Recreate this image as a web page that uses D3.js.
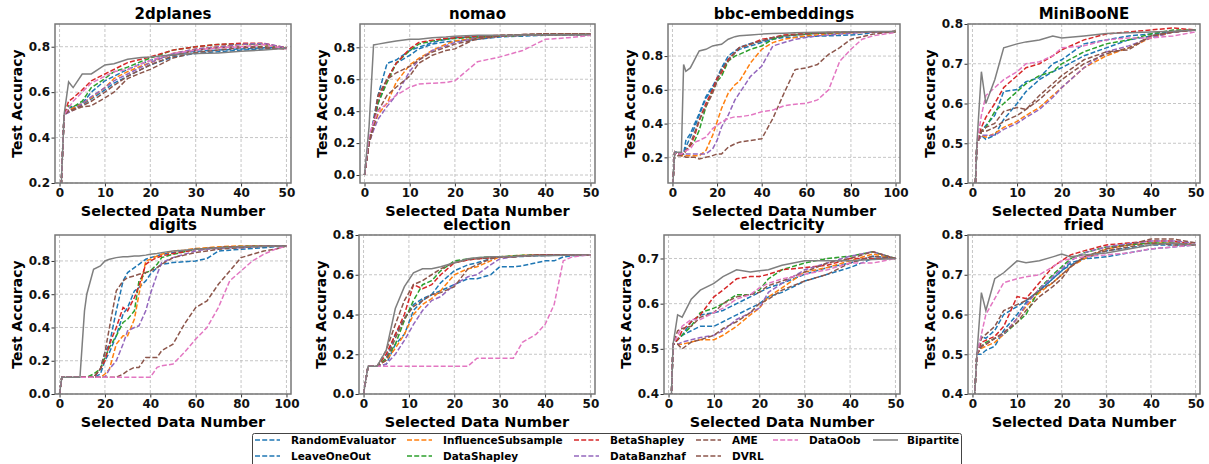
<!DOCTYPE html>
<html>
<head>
<meta charset="utf-8">
<script src="https://cdn.jsdelivr.net/npm/d3@7"></script>
<style>
    body { margin: 0; background: #fff; }
    text { font-family: 'DejaVu Sans', sans-serif; font-weight: bold; }
</style>
</head>
<body>
<svg id="chart" width="1209" height="464"></svg>
<script>

    var methods = ['RandomEvaluator', 'LeaveOneOut', 'InfluenceSubsample', 'DataShapley', 'BetaShapley',
        'DataBanzhaf', 'AME', 'DVRL', 'DataOob', 'Bipartite'];

    var datasets = ['2dplanes', 'nomao', 'bbc-embeddings', 'MiniBooNE', 'digits', 'election', 'electricity', 'fried'];

    // selected data numbers sampled for each dataset
    var xPlanes = [0, 1, 2, 3, 5, 7, 10, 12, 15, 18, 20, 25, 30, 35, 40, 45, 50];
    var xNomao = xPlanes;
    var xBbc = [0, 1, 2, 4, 5, 6, 8, 10, 12, 15, 18, 20, 22, 25, 28, 30, 35, 40, 45, 50, 55, 60, 65, 70, 75, 80, 85, 90, 100];
    var xMiniboone = xPlanes;
    var xDigits = [0, 1, 5, 9, 10, 11, 12, 15, 18, 20, 22, 25, 28, 30, 33, 35, 38, 40, 43, 45, 50, 55, 60, 65, 70, 75, 80, 85, 90, 95, 100];
    var xElection = [0, 1, 3, 5, 7, 9, 11, 13, 15, 17, 20, 23, 25, 28, 30, 33, 35, 38, 40, 42, 44, 46, 50];
    var xElectricity = [0, 1, 2, 3, 5, 7, 10, 12, 15, 18, 20, 22, 25, 30, 35, 40, 45, 50];
    var xFried = xElectricity;

    // test accuracy, one row per method (same order as methods)
    var accPlanes = [
        [0, 0.5, 0.53, 0.535, 0.55, 0.6, 0.65, 0.67, 0.7, 0.725, 0.74, 0.765, 0.78, 0.785, 0.79, 0.795, 0.795],
        [0, 0.5, 0.52, 0.525, 0.545, 0.57, 0.61, 0.64, 0.67, 0.7, 0.72, 0.755, 0.77, 0.778, 0.785, 0.79, 0.795],
        [0, 0.5, 0.52, 0.53, 0.55, 0.575, 0.62, 0.66, 0.69, 0.715, 0.73, 0.77, 0.79, 0.8, 0.81, 0.81, 0.795],
        [0, 0.5, 0.54, 0.535, 0.56, 0.62, 0.66, 0.69, 0.71, 0.735, 0.75, 0.785, 0.8, 0.81, 0.812, 0.81, 0.795],
        [0, 0.5, 0.56, 0.575, 0.61, 0.65, 0.68, 0.7, 0.73, 0.745, 0.755, 0.785, 0.8, 0.81, 0.815, 0.815, 0.795],
        [0, 0.5, 0.51, 0.52, 0.55, 0.58, 0.62, 0.65, 0.68, 0.71, 0.73, 0.77, 0.79, 0.8, 0.81, 0.815, 0.795],
        [0, 0.5, 0.52, 0.525, 0.54, 0.56, 0.6, 0.63, 0.67, 0.7, 0.72, 0.76, 0.785, 0.795, 0.8, 0.8, 0.79],
        [0, 0.5, 0.515, 0.52, 0.535, 0.54, 0.575, 0.6, 0.66, 0.685, 0.7, 0.75, 0.775, 0.785, 0.795, 0.795, 0.79],
        [0, 0.5, 0.53, 0.56, 0.6, 0.64, 0.67, 0.69, 0.7, 0.725, 0.74, 0.77, 0.785, 0.795, 0.8, 0.81, 0.79],
        [0, 0.5, 0.645, 0.62, 0.68, 0.68, 0.72, 0.725, 0.745, 0.752, 0.755, 0.765, 0.77, 0.772, 0.78, 0.785, 0.793]
    ];

    var accNomao = [
        [0, 0.2, 0.35, 0.5, 0.7, 0.72, 0.78, 0.8, 0.83, 0.85, 0.86, 0.865, 0.87, 0.875, 0.875, 0.878, 0.88],
        [0, 0.2, 0.3, 0.45, 0.6, 0.7, 0.75, 0.79, 0.82, 0.835, 0.84, 0.85, 0.865, 0.87, 0.875, 0.878, 0.88],
        [0, 0.2, 0.3, 0.38, 0.45, 0.58, 0.69, 0.73, 0.78, 0.82, 0.84, 0.86, 0.87, 0.875, 0.878, 0.88, 0.88],
        [0, 0.2, 0.32, 0.45, 0.58, 0.7, 0.78, 0.82, 0.84, 0.85, 0.855, 0.865, 0.87, 0.875, 0.878, 0.88, 0.88],
        [0, 0.2, 0.33, 0.48, 0.6, 0.7, 0.79, 0.83, 0.845, 0.855, 0.86, 0.87, 0.875, 0.878, 0.88, 0.88, 0.88],
        [0, 0.2, 0.28, 0.35, 0.43, 0.5, 0.65, 0.72, 0.78, 0.81, 0.83, 0.86, 0.87, 0.875, 0.878, 0.88, 0.88],
        [0, 0.2, 0.32, 0.5, 0.6, 0.64, 0.68, 0.72, 0.77, 0.8, 0.82, 0.85, 0.87, 0.88, 0.885, 0.885, 0.885],
        [0, 0.2, 0.3, 0.4, 0.5, 0.55, 0.62, 0.7, 0.75, 0.78, 0.79, 0.86, 0.875, 0.88, 0.885, 0.885, 0.885],
        [0, 0.25, 0.33, 0.4, 0.45, 0.5, 0.55, 0.57, 0.575, 0.58, 0.59, 0.71, 0.74, 0.78, 0.85, 0.86, 0.875],
        [0, 0.3, 0.815, 0.82, 0.83, 0.84, 0.85, 0.85, 0.86, 0.865, 0.87, 0.875, 0.875, 0.877, 0.878, 0.879, 0.88]
    ];

    var accBbc = [
        [0, 0.23, 0.23, 0.22, 0.22, 0.3, 0.34, 0.4, 0.46, 0.56, 0.62, 0.67, 0.73, 0.8, 0.83, 0.85, 0.875, 0.89, 0.905, 0.92, 0.925, 0.93, 0.935, 0.937, 0.94, 0.942, 0.943, 0.944, 0.945],
        [0, 0.23, 0.23, 0.22, 0.22, 0.26, 0.32, 0.38, 0.45, 0.55, 0.61, 0.66, 0.72, 0.78, 0.82, 0.84, 0.86, 0.88, 0.9, 0.91, 0.912, 0.915, 0.918, 0.92, 0.922, 0.925, 0.93, 0.94, 0.945],
        [0, 0.23, 0.22, 0.21, 0.21, 0.21, 0.21, 0.21, 0.21, 0.24, 0.33, 0.41, 0.49, 0.58, 0.63, 0.65, 0.76, 0.84, 0.88, 0.9, 0.91, 0.92, 0.925, 0.93, 0.935, 0.938, 0.94, 0.943, 0.945],
        [0, 0.23, 0.22, 0.22, 0.22, 0.24, 0.27, 0.3, 0.36, 0.5, 0.6, 0.65, 0.68, 0.77, 0.8, 0.81, 0.84, 0.86, 0.9, 0.92, 0.925, 0.93, 0.935, 0.937, 0.94, 0.942, 0.943, 0.944, 0.945],
        [0, 0.23, 0.22, 0.22, 0.22, 0.24, 0.27, 0.33, 0.42, 0.52, 0.6, 0.67, 0.7, 0.78, 0.82, 0.85, 0.87, 0.9, 0.91, 0.925, 0.93, 0.935, 0.937, 0.94, 0.941, 0.942, 0.943, 0.944, 0.945],
        [0, 0.23, 0.22, 0.22, 0.22, 0.22, 0.22, 0.22, 0.22, 0.22, 0.25, 0.3, 0.38, 0.45, 0.54, 0.58, 0.68, 0.74, 0.86, 0.88, 0.9, 0.91, 0.92, 0.925, 0.93, 0.935, 0.94, 0.943, 0.945],
        [0, 0.23, 0.22, 0.22, 0.22, 0.24, 0.28, 0.35, 0.42, 0.5, 0.58, 0.65, 0.72, 0.77, 0.82, 0.85, 0.87, 0.89, 0.91, 0.92, 0.925, 0.93, 0.935, 0.937, 0.94, 0.942, 0.943, 0.944, 0.945],
        [0, 0.23, 0.21, 0.21, 0.21, 0.2, 0.2, 0.2, 0.19, 0.2, 0.21, 0.22, 0.22, 0.26, 0.28, 0.29, 0.3, 0.31, 0.43, 0.58, 0.72, 0.73, 0.75, 0.81, 0.85, 0.9, 0.915, 0.93, 0.945],
        [0, 0.23, 0.22, 0.22, 0.23, 0.24, 0.25, 0.29, 0.3, 0.32, 0.37, 0.39, 0.41, 0.43, 0.44, 0.44, 0.45, 0.47, 0.48, 0.505, 0.515, 0.52, 0.54, 0.6, 0.77, 0.84, 0.9, 0.92, 0.94],
        [0, 0.23, 0.23, 0.23, 0.75, 0.71, 0.73, 0.78, 0.83, 0.84, 0.86, 0.865, 0.87, 0.9, 0.915, 0.92, 0.925, 0.93, 0.933, 0.935, 0.938, 0.94, 0.941, 0.942, 0.943, 0.944, 0.944, 0.945, 0.945]
    ];

    var accMiniboone = [
        [0.2, 0.5, 0.53, 0.545, 0.57, 0.63, 0.635, 0.655, 0.665, 0.7, 0.71, 0.75, 0.76, 0.77, 0.775, 0.78, 0.785],
        [0.2, 0.5, 0.52, 0.51, 0.52, 0.56, 0.6, 0.63, 0.66, 0.68, 0.69, 0.72, 0.74, 0.76, 0.77, 0.78, 0.785],
        [0.2, 0.5, 0.52, 0.515, 0.525, 0.54, 0.555, 0.57, 0.59, 0.62, 0.64, 0.69, 0.72, 0.74, 0.765, 0.78, 0.785],
        [0.2, 0.5, 0.53, 0.54, 0.58, 0.6, 0.63, 0.65, 0.67, 0.68, 0.7, 0.73, 0.75, 0.76, 0.775, 0.785, 0.785],
        [0.2, 0.5, 0.54, 0.565, 0.6, 0.64, 0.67, 0.69, 0.7, 0.72, 0.735, 0.76, 0.775, 0.78, 0.785, 0.79, 0.785],
        [0.2, 0.5, 0.52, 0.52, 0.52, 0.535, 0.55, 0.565, 0.585, 0.615, 0.64, 0.69, 0.73, 0.745, 0.765, 0.78, 0.785],
        [0.2, 0.5, 0.53, 0.54, 0.55, 0.58, 0.59, 0.585, 0.62, 0.65, 0.67, 0.71, 0.73, 0.735, 0.77, 0.78, 0.785],
        [0.2, 0.5, 0.53, 0.53, 0.54, 0.555, 0.57, 0.585, 0.61, 0.64, 0.66, 0.7, 0.725, 0.74, 0.77, 0.78, 0.785],
        [0.2, 0.5, 0.57, 0.62, 0.64, 0.66, 0.68, 0.7, 0.705, 0.72, 0.74, 0.745, 0.76, 0.765, 0.765, 0.77, 0.78],
        [0.2, 0.5, 0.68, 0.6, 0.66, 0.74, 0.75, 0.755, 0.76, 0.77, 0.765, 0.77, 0.776, 0.778, 0.78, 0.782, 0.785]
    ];

    var accDigits = [
        [0, 0.1, 0.1, 0.1, 0.1, 0.1, 0.1, 0.1, 0.15, 0.25, 0.3, 0.5, 0.68, 0.73, 0.76, 0.78, 0.81, 0.82, 0.83, 0.84, 0.85, 0.86, 0.87, 0.875, 0.88, 0.882, 0.885, 0.887, 0.888, 0.89, 0.89],
        [0, 0.1, 0.1, 0.1, 0.1, 0.1, 0.1, 0.1, 0.12, 0.2, 0.25, 0.35, 0.48, 0.52, 0.62, 0.64, 0.68, 0.72, 0.76, 0.78, 0.79, 0.795, 0.8, 0.815, 0.86, 0.865, 0.87, 0.875, 0.88, 0.885, 0.89],
        [0, 0.1, 0.1, 0.1, 0.1, 0.1, 0.1, 0.1, 0.1, 0.12, 0.15, 0.3, 0.35, 0.35, 0.45, 0.6, 0.8, 0.81, 0.83, 0.84, 0.86, 0.865, 0.875, 0.88, 0.885, 0.888, 0.89, 0.89, 0.89, 0.89, 0.89],
        [0, 0.1, 0.1, 0.1, 0.1, 0.1, 0.1, 0.12, 0.15, 0.22, 0.28, 0.35, 0.43, 0.45, 0.5, 0.68, 0.73, 0.74, 0.78, 0.82, 0.84, 0.855, 0.87, 0.875, 0.88, 0.885, 0.887, 0.888, 0.889, 0.89, 0.89],
        [0, 0.1, 0.1, 0.1, 0.1, 0.1, 0.1, 0.1, 0.15, 0.2, 0.3, 0.4, 0.52, 0.5, 0.58, 0.65, 0.78, 0.8, 0.82, 0.83, 0.845, 0.855, 0.87, 0.875, 0.88, 0.885, 0.887, 0.888, 0.889, 0.89, 0.89],
        [0, 0.1, 0.1, 0.1, 0.1, 0.1, 0.1, 0.1, 0.1, 0.1, 0.15, 0.2, 0.3, 0.38, 0.4, 0.41, 0.5, 0.6, 0.72, 0.79, 0.82, 0.84, 0.86, 0.87, 0.875, 0.88, 0.88, 0.885, 0.888, 0.89, 0.89],
        [0, 0.1, 0.1, 0.1, 0.1, 0.1, 0.1, 0.1, 0.15, 0.25, 0.4, 0.62, 0.68, 0.7, 0.71, 0.72, 0.73, 0.74, 0.76, 0.78, 0.82, 0.835, 0.85, 0.86, 0.87, 0.875, 0.88, 0.885, 0.887, 0.888, 0.89],
        [0, 0.1, 0.1, 0.1, 0.1, 0.1, 0.1, 0.1, 0.1, 0.1, 0.1, 0.1, 0.12, 0.14, 0.16, 0.16, 0.22, 0.22, 0.22, 0.26, 0.3, 0.42, 0.52, 0.56, 0.66, 0.74, 0.82, 0.84, 0.86, 0.87, 0.89],
        [0, 0.1, 0.1, 0.1, 0.1, 0.1, 0.1, 0.1, 0.1, 0.1, 0.1, 0.1, 0.1, 0.1, 0.1, 0.1, 0.1, 0.1, 0.16, 0.17, 0.18, 0.25, 0.33, 0.4, 0.52, 0.68, 0.74, 0.8, 0.84, 0.87, 0.89],
        [0, 0.1, 0.1, 0.1, 0.3, 0.5, 0.6, 0.75, 0.77, 0.8, 0.81, 0.82, 0.825, 0.825, 0.83, 0.83, 0.835, 0.84, 0.845, 0.85, 0.86, 0.865, 0.87, 0.875, 0.88, 0.883, 0.885, 0.887, 0.888, 0.89, 0.89]
    ];

    var accElection = [
        [0, 0.14, 0.14, 0.15, 0.25, 0.3, 0.42, 0.47, 0.5, 0.52, 0.55, 0.58, 0.58, 0.6, 0.64, 0.64, 0.645, 0.66, 0.67, 0.67, 0.69, 0.695, 0.7],
        [0, 0.14, 0.14, 0.18, 0.3, 0.38, 0.45, 0.48, 0.5, 0.56, 0.62, 0.65, 0.66, 0.68, 0.69, 0.69, 0.692, 0.695, 0.697, 0.698, 0.7, 0.7, 0.7],
        [0, 0.14, 0.14, 0.17, 0.23, 0.3, 0.4, 0.45, 0.48, 0.52, 0.6, 0.63, 0.64, 0.67, 0.69, 0.695, 0.698, 0.7, 0.7, 0.7, 0.7, 0.7, 0.7],
        [0, 0.14, 0.14, 0.18, 0.25, 0.37, 0.47, 0.55, 0.57, 0.62, 0.67, 0.68, 0.685, 0.69, 0.69, 0.695, 0.698, 0.7, 0.7, 0.7, 0.7, 0.7, 0.7],
        [0, 0.14, 0.14, 0.2, 0.3, 0.4, 0.55, 0.53, 0.55, 0.6, 0.66, 0.675, 0.68, 0.685, 0.69, 0.69, 0.695, 0.698, 0.7, 0.7, 0.7, 0.7, 0.7],
        [0, 0.14, 0.14, 0.15, 0.2, 0.27, 0.35, 0.42, 0.47, 0.49, 0.55, 0.59, 0.6, 0.65, 0.68, 0.69, 0.695, 0.698, 0.7, 0.7, 0.7, 0.7, 0.7],
        [0, 0.14, 0.14, 0.22, 0.35, 0.47, 0.55, 0.57, 0.6, 0.63, 0.66, 0.675, 0.68, 0.685, 0.69, 0.69, 0.695, 0.698, 0.7, 0.7, 0.7, 0.7, 0.7],
        [0, 0.14, 0.14, 0.17, 0.28, 0.38, 0.44, 0.47, 0.5, 0.51, 0.54, 0.63, 0.65, 0.68, 0.69, 0.69, 0.695, 0.698, 0.7, 0.7, 0.7, 0.7, 0.7],
        [0, 0.14, 0.14, 0.14, 0.14, 0.14, 0.14, 0.14, 0.14, 0.14, 0.14, 0.14, 0.18, 0.18, 0.18, 0.18, 0.26, 0.3, 0.35, 0.45, 0.67, 0.69, 0.7],
        [0, 0.14, 0.14, 0.22, 0.43, 0.54, 0.61, 0.63, 0.63, 0.64, 0.66, 0.68, 0.685, 0.69, 0.69, 0.692, 0.694, 0.695, 0.696, 0.697, 0.698, 0.699, 0.7]
    ];

    var accElectricity = [
        [0.2, 0.51, 0.52, 0.53, 0.54, 0.55, 0.55, 0.56, 0.575, 0.59, 0.6, 0.615, 0.625, 0.65, 0.665, 0.68, 0.7, 0.7],
        [0.2, 0.51, 0.52, 0.53, 0.56, 0.575, 0.58, 0.585, 0.6, 0.615, 0.625, 0.635, 0.645, 0.665, 0.68, 0.69, 0.705, 0.7],
        [0.2, 0.51, 0.51, 0.51, 0.515, 0.52, 0.52, 0.53, 0.55, 0.575, 0.59, 0.615, 0.635, 0.67, 0.68, 0.695, 0.71, 0.7],
        [0.2, 0.51, 0.52, 0.53, 0.55, 0.58, 0.59, 0.6, 0.62, 0.62, 0.63, 0.655, 0.675, 0.69, 0.7, 0.705, 0.715, 0.7],
        [0.2, 0.51, 0.52, 0.54, 0.56, 0.575, 0.615, 0.63, 0.655, 0.66, 0.66, 0.665, 0.675, 0.68, 0.685, 0.7, 0.7, 0.7],
        [0.2, 0.51, 0.51, 0.515, 0.52, 0.525, 0.53, 0.54, 0.565, 0.58, 0.59, 0.625, 0.645, 0.675, 0.69, 0.705, 0.715, 0.7],
        [0.2, 0.51, 0.54, 0.545, 0.55, 0.57, 0.58, 0.6, 0.615, 0.62, 0.625, 0.64, 0.65, 0.67, 0.69, 0.7, 0.715, 0.7],
        [0.2, 0.51, 0.51, 0.5, 0.515, 0.52, 0.53, 0.545, 0.56, 0.58, 0.6, 0.61, 0.63, 0.65, 0.665, 0.69, 0.705, 0.7],
        [0.2, 0.51, 0.53, 0.55, 0.565, 0.565, 0.58, 0.59, 0.61, 0.62, 0.635, 0.645, 0.655, 0.665, 0.675, 0.69, 0.69, 0.7],
        [0.2, 0.51, 0.575, 0.57, 0.61, 0.63, 0.645, 0.66, 0.675, 0.67, 0.673, 0.675, 0.685, 0.695, 0.695, 0.695, 0.698, 0.7]
    ];

    var accFried = [
        [0.3, 0.5, 0.5, 0.51, 0.52, 0.56, 0.6, 0.63, 0.66, 0.69, 0.71, 0.73, 0.74, 0.745, 0.755, 0.765, 0.77, 0.775],
        [0.3, 0.5, 0.545, 0.54, 0.56, 0.6, 0.62, 0.635, 0.66, 0.69, 0.71, 0.725, 0.74, 0.76, 0.768, 0.775, 0.775, 0.775],
        [0.3, 0.5, 0.515, 0.52, 0.53, 0.55, 0.59, 0.62, 0.655, 0.68, 0.7, 0.72, 0.74, 0.765, 0.775, 0.78, 0.78, 0.775],
        [0.3, 0.5, 0.52, 0.53, 0.54, 0.55, 0.58, 0.6, 0.665, 0.7, 0.72, 0.74, 0.755, 0.77, 0.775, 0.78, 0.78, 0.775],
        [0.3, 0.5, 0.53, 0.535, 0.545, 0.57, 0.645, 0.64, 0.68, 0.72, 0.735, 0.75, 0.76, 0.775, 0.78, 0.785, 0.785, 0.775],
        [0.3, 0.5, 0.52, 0.525, 0.54, 0.55, 0.59, 0.625, 0.665, 0.695, 0.715, 0.735, 0.755, 0.77, 0.778, 0.785, 0.785, 0.78],
        [0.3, 0.5, 0.54, 0.55, 0.57, 0.61, 0.625, 0.635, 0.66, 0.68, 0.7, 0.72, 0.745, 0.765, 0.775, 0.79, 0.79, 0.78],
        [0.3, 0.5, 0.52, 0.525, 0.54, 0.555, 0.58, 0.61, 0.645, 0.67, 0.69, 0.72, 0.745, 0.76, 0.77, 0.78, 0.775, 0.775],
        [0.3, 0.5, 0.55, 0.6, 0.64, 0.68, 0.69, 0.695, 0.7, 0.72, 0.735, 0.74, 0.745, 0.75, 0.755, 0.765, 0.77, 0.775],
        [0.3, 0.5, 0.655, 0.61, 0.69, 0.705, 0.735, 0.73, 0.735, 0.745, 0.752, 0.745, 0.75, 0.755, 0.765, 0.775, 0.78, 0.775]
    ];

    var ticks50 = [0, 10, 20, 30, 40, 50];
    var ticks100 = [0, 20, 40, 60, 80, 100];

    var colors = ['#1f77b4', '#1f77b4', '#ff7f0e', '#2ca02c', '#d62728', '#9467bd', '#8c564b', '#8c564b', '#e377c2', '#7f7f7f'];

    var panels = [
        {xs: xPlanes, rows: accPlanes, xTicks: ticks50, yDomain: [0.2, 0.9], yTicks: [0.2, 0.4, 0.6, 0.8], left: 55, right: 291, top: 24, bottom: 183},
        {xs: xNomao, rows: accNomao, xTicks: ticks50, yDomain: [-0.05, 0.946], yTicks: [0, 0.2, 0.4, 0.6, 0.8], left: 360, right: 595, top: 24, bottom: 183},
        {xs: xBbc, rows: accBbc, xTicks: ticks100, yDomain: [0.048, 0.99], yTicks: [0.2, 0.4, 0.6, 0.8], left: 668, right: 900, top: 24, bottom: 183},
        {xs: xMiniboone, rows: accMiniboone, xTicks: ticks50, yDomain: [0.4, 0.8], yTicks: [0.4, 0.5, 0.6, 0.7, 0.8], left: 968, right: 1200, top: 24, bottom: 183},
        {xs: xDigits, rows: accDigits, xTicks: ticks100, yDomain: [0, 0.956], yTicks: [0, 0.2, 0.4, 0.6, 0.8], left: 55, right: 291, top: 235, bottom: 394},
        {xs: xElection, rows: accElection, xTicks: ticks50, yDomain: [0, 0.8], yTicks: [0, 0.2, 0.4, 0.6, 0.8], left: 359, right: 595, top: 235, bottom: 394},
        {xs: xElectricity, rows: accElectricity, xTicks: ticks50, yDomain: [0.4, 0.752], yTicks: [0.4, 0.5, 0.6, 0.7], left: 664, right: 900, top: 235, bottom: 394},
        {xs: xFried, rows: accFried, xTicks: ticks50, yDomain: [0.4, 0.8], yTicks: [0.4, 0.5, 0.6, 0.7, 0.8], left: 968, right: 1200, top: 235, bottom: 394}
    ];

    var svg = d3.select('#chart');

    var drawPanel = function (p, idx) {

        var w = p.right - p.left,
            h = p.bottom - p.top,
            xMax = p.xTicks[p.xTicks.length - 1],
            pad = xMax / 50,
            x = d3.scaleLinear().domain([-pad, xMax + pad]).range([0, w]),
            y = d3.scaleLinear().domain(p.yDomain).range([h, 0]),
            g = svg.append('g').attr('transform', 'translate(' + p.left + ',' + p.top + ')');

        // grid
        g.append('g').selectAll('line')
            .data(p.xTicks)
            .enter().append('line')
            .attr('x1', function (d) { return x(d); })
            .attr('x2', function (d) { return x(d); })
            .attr('y1', 0)
            .attr('y2', h)
            .attr('stroke', '#b8b8b8')
            .attr('stroke-width', 0.8)
            .attr('stroke-dasharray', '3,2');

        g.append('g').selectAll('line')
            .data(p.yTicks)
            .enter().append('line')
            .attr('x1', 0)
            .attr('x2', w)
            .attr('y1', function (d) { return y(d); })
            .attr('y2', function (d) { return y(d); })
            .attr('stroke', '#b8b8b8')
            .attr('stroke-width', 0.8)
            .attr('stroke-dasharray', '3,2');

        svg.append('clipPath')
            .attr('id', 'clip' + idx)
            .append('rect')
            .attr('width', w)
            .attr('height', h);

        var line = d3.line()
            .x(function (d) { return x(d[0]); })
            .y(function (d) { return y(d[1]); });

        g.append('g')
            .attr('clip-path', 'url(#clip' + idx + ')')
            .selectAll('path')
            .data(p.rows)
            .enter().append('path')
            .attr('d', function (row) {

                return line(row.map(function (v, i) { return [p.xs[i], v]; }));

            })
            .attr('fill', 'none')
            .attr('stroke', function (d, i) { return colors[i]; })
            .attr('stroke-width', 1.5)
            .attr('stroke-dasharray', function (d, i) { return i === 9 ? null : '5,2.2'; });

        // axes
        var xAxis = g.append('g')
            .attr('transform', 'translate(0,' + h + ')')
            .call(d3.axisBottom(x).tickValues(p.xTicks).tickSize(3.5).tickPadding(1.5));

        var yAxis = g.append('g')
            .call(d3.axisLeft(y).tickValues(p.yTicks).tickFormat(d3.format('.1f')).tickSize(3.5).tickPadding(1.5));

        [xAxis, yAxis].forEach(function (a) {

            a.select('.domain').remove();
            a.selectAll('line').attr('stroke', '#333');
            a.selectAll('text')
                .attr('fill', '#111')
                .style('font-size', '12px')
                .style('font-family', 'DejaVu Sans')
                .style('font-weight', 'bold');

        });

        g.append('rect')
            .attr('width', w)
            .attr('height', h)
            .attr('fill', 'none')
            .attr('stroke', '#777')
            .attr('stroke-width', 1.5);

        g.append('text')
            .attr('x', w / 2)
            .attr('y', -5)
            .attr('text-anchor', 'middle')
            .style('font-size', '15px')
            .text(datasets[idx]);

        g.append('text')
            .attr('x', w / 2)
            .attr('y', h + 33)
            .attr('text-anchor', 'middle')
            .style('font-size', '14.5px')
            .text('Selected Data Number');

        g.append('text')
            .attr('transform', 'translate(-33,' + (h / 2) + ') rotate(-90)')
            .attr('text-anchor', 'middle')
            .style('font-size', '14px')
            .text('Test Accuracy');

    };

    panels.forEach(drawPanel);

    // legend, six columns filled top to bottom
    var legendCols = [255, 407, 574, 696, 773, 873];

    var legend = svg.append('g');

    legend.append('rect')
        .attr('x', 252.5)
        .attr('y', 433.5)
        .attr('width', 709)
        .attr('height', 40)
        .attr('rx', 2)
        .attr('fill', '#fff')
        .attr('stroke', '#444')
        .attr('stroke-width', 1);

    var item = legend.selectAll('.item')
        .data(methods)
        .enter().append('g')
        .attr('class', 'item')
        .attr('transform', function (d, i) {

            var col = i < 8 ? Math.floor(i / 2) : i - 4,
                row = i < 8 ? i % 2 : 0;

            return 'translate(' + legendCols[col] + ',' + (440 + row * 16) + ')';

        });

    item.append('line')
        .attr('x1', 0)
        .attr('x2', 25)
        .attr('stroke', function (d, i) { return colors[i]; })
        .attr('stroke-width', 1.5)
        .attr('stroke-dasharray', function (d, i) { return i === 9 ? null : '5,2.2'; });

    item.append('text')
        .attr('x', function (d, i) { return i === 9 ? 34 : 36; })
        .attr('y', 4)
        .style('font-size', '10.5px')
        .text(function (d) { return d; });

</script>
</body>
</html>
